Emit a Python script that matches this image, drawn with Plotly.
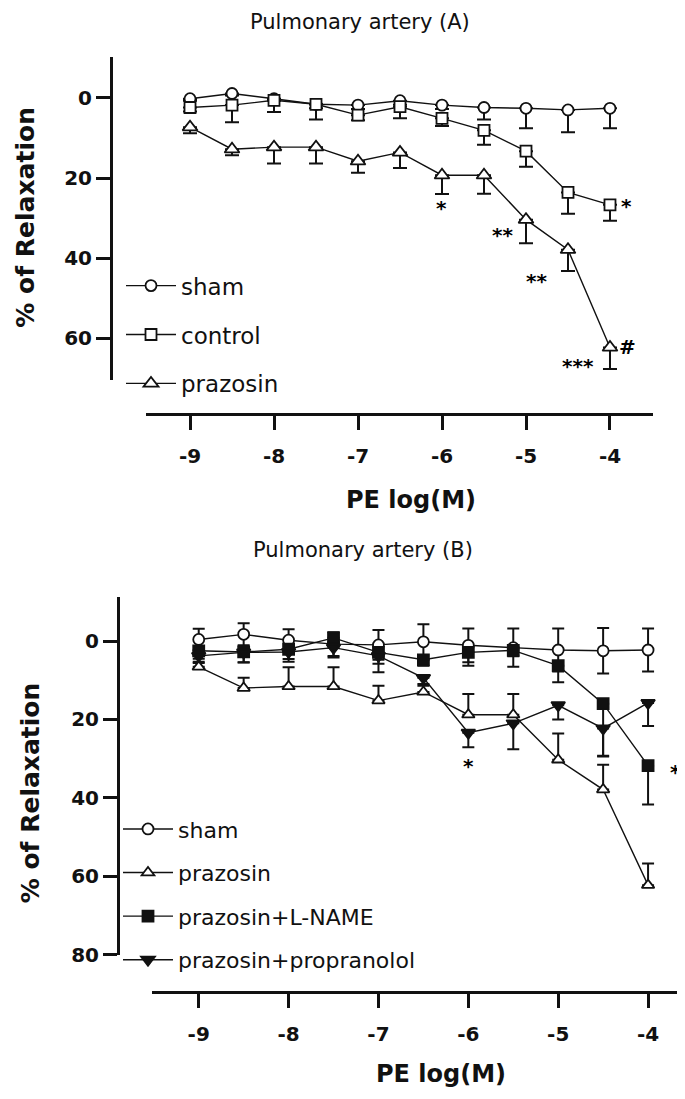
import plotly.graph_objects as go

# ---------------- data ----------------
log_pe = [-9, -8.5, -8, -7.5, -7, -6.5, -6, -5.5, -5, -4.5, -4]

# Panel A
a_sham = [0.2, -1.1, 0.2, 1.6, 1.8, 0.7, 1.8, 2.4, 2.6, 3.0, 2.6]
a_sham_err = [0.5, 0.5, 0.5, 1.0, 1.0, 1.0, 1.0, 3.0, 5.0, 5.6, 5.0]
a_control = [2.4, 1.8, 0.6, 1.6, 4.3, 2.2, 5.1, 8.1, 13.3, 23.6, 26.7]
a_control_err = [1.0, 4.3, 2.9, 3.8, 1.3, 2.9, 1.9, 3.6, 3.9, 5.3, 4.0]
a_prazosin = [7.3, 12.8, 12.3, 12.3, 15.8, 13.6, 19.3, 19.3, 30.4, 37.9, 62.3]
a_prazosin_err = [1.5, 1.5, 4.1, 4.1, 2.9, 3.9, 4.7, 4.6, 5.9, 5.3, 5.4]
a_marks = ["*", "**", "**", "***", "*", "#"]
a_marks_x = [-6.01, -5.28, -4.87, -4.38, -3.80, -3.79]
a_marks_y = [27.3, 33.9, 45.4, 66.6, 26.7, 61.9]

# Panel B
b_sham = [-0.4, -1.7, -0.2, 0.8, 1.0, 0.2, 1.1, 1.7, 2.3, 2.5, 2.3]
b_sham_err = [2.7, 2.8, 2.8, 3.0, 3.8, 4.5, 4.3, 4.9, 5.5, 5.8, 5.5]
b_prazosin = [6.6, 12.0, 11.6, 11.6, 15.2, 13.0, 18.8, 18.8, 30.3, 37.9, 62.3]
b_prazosin_err = [1.0, 2.6, 4.9, 4.9, 3.8, 2.0, 5.3, 5.3, 6.7, 6.3, 5.5]
b_lname = [2.5, 2.8, 2.1, -0.8, 2.9, 4.8, 2.9, 2.4, 6.3, 16.0, 31.8]
b_lname_err = [2.0, 2.7, 2.5, 1.0, 2.9, 1.5, 3.4, 1.5, 4.2, 13.5, 9.9]
b_prop = [3.8, 2.9, 2.8, 1.7, 3.8, 9.4, 23.4, 21.0, 16.4, 22.3, 15.8]
b_prop_err = [1.5, 2.5, 2.5, 2.5, 4.2, 2.0, 3.7, 6.6, 3.6, 7.0, 5.9]
b_marks = ["*", "*"]
b_marks_x = [-6.0, -3.69]
b_marks_y = [31.3, 33.0]

x_ticks = [-9, -8, -7, -6, -5, -4]
x_tick_labels = ["-9", "-8", "-7", "-6", "-5", "-4"]
a_y_ticks = [0, 20, 40, 60]
a_y_tick_labels = ["0", "20", "40", "60"]
b_y_ticks = [0, 20, 40, 60, 80]
b_y_tick_labels = ["0", "20", "40", "60", "80"]

# ---------------- styling ----------------
W, H = 685, 1099
INK = "#111111"
FONT = "DejaVu Sans"


def px_x(p):
    return p / W


def px_y(p):
    return 1 - p / H


fig = go.Figure()


def add_series(x, y, err, name, symbol, fill, xa, ya, legend, size, cap, plus=True, sym=False):
    if sym:
        ey = dict(type="data", array=err, symmetric=True, color=INK, thickness=2, width=cap)
    elif plus:
        ey = dict(type="data", array=err, arrayminus=[0] * len(err), symmetric=False,
                  color=INK, thickness=2, width=cap)
    else:
        ey = dict(type="data", array=[0] * len(err), arrayminus=err, symmetric=False,
                  color=INK, thickness=2, width=cap)
    fig.add_trace(go.Scatter(
        x=x, y=y, name=name, mode="lines+markers",
        xaxis=xa, yaxis=ya, legend=legend, legendgroup=legend + name,
        line=dict(color=INK, width=1.4),
        marker=dict(symbol=symbol, size=size, color=fill, line=dict(color=INK, width=1.8)),
        error_y=ey,
    ))


# Panel A
add_series(log_pe, a_sham, a_sham_err, "sham", "circle", "white", "x", "y", "legend", 11, 7)
add_series(log_pe, a_control, a_control_err, "control", "square", "white", "x", "y", "legend", 11, 7)
add_series(log_pe, a_prazosin, a_prazosin_err, "prazosin", "triangle-up", "white", "x", "y", "legend", 13, 7)

# Panel B
add_series(log_pe, b_sham, b_sham_err, "sham", "circle", "white", "x2", "y2", "legend2", 11, 6, sym=True)
add_series(log_pe, b_prazosin, b_prazosin_err, "prazosin", "triangle-up", "white", "x2", "y2", "legend2", 11, 6, plus=False)
add_series(log_pe, b_lname, b_lname_err, "prazosin+L-NAME", "square", INK, "x2", "y2", "legend2", 11, 6)
add_series(log_pe, b_prop, b_prop_err, "prazosin+propranolol", "triangle-down", INK, "x2", "y2", "legend2", 12, 6)

tickfont = dict(family=FONT, size=20, color=INK, weight="bold")
axis_common = dict(showgrid=False, zeroline=False, showline=True, linecolor=INK, linewidth=3,
                   ticks="outside", ticklen=14, tickwidth=3, tickcolor=INK, tickfont=tickfont)

fig.update_layout(
    width=W, height=H,
    margin=dict(l=0, r=0, t=0, b=0),
    paper_bgcolor="white", plot_bgcolor="white",
    showlegend=True,
    xaxis=dict(domain=[px_x(137.5), px_x(645)], range=[-9.53, -3.488], anchor="free",
               position=px_y(410), tickvals=x_ticks, ticktext=x_tick_labels,
               ticklabelstandoff=9, **axis_common),
    yaxis=dict(domain=[px_y(376), px_y(50)], range=[70.4, -10.1], anchor="free",
               position=px_x(103), tickvals=a_y_ticks, ticktext=a_y_tick_labels,
               ticklabelstandoff=0, **axis_common),
    xaxis2=dict(domain=[px_x(144), 1.0], range=[-9.52, -3.5], anchor="free",
                position=px_y(995), tickvals=x_ticks, ticktext=x_tick_labels,
                ticklabelstandoff=9, **axis_common),
    yaxis2=dict(domain=[px_y(957), px_y(596)], range=[80, -11.1], anchor="free",
                position=px_x(110), tickvals=b_y_ticks, ticktext=b_y_tick_labels,
                ticklabelstandoff=0, **axis_common),
    legend=dict(x=px_x(113), y=px_y(259), xanchor="left", yanchor="top",
                font=dict(family=FONT, size=23, color=INK), bgcolor="rgba(0,0,0,0)",
                traceorder="grouped", tracegroupgap=16, itemwidth=50),
    legend2=dict(x=px_x(110), y=px_y(809), xanchor="left", yanchor="top",
                 font=dict(family=FONT, size=22, color=INK), bgcolor="rgba(0,0,0,0)",
                 traceorder="grouped", tracegroupgap=12, itemwidth=50),
)

# significance marks
mark_font = dict(family=FONT, size=20, color="#000000", weight="bold")
for t, xx, yy in zip(a_marks, a_marks_x, a_marks_y):
    fig.add_annotation(x=xx, y=yy, xref="x", yref="y", text=t, showarrow=False,
                       font=mark_font, yshift=-1)
for t, xx, yy in zip(b_marks, b_marks_x, b_marks_y):
    fig.add_annotation(x=xx, y=yy, xref="x2", yref="y2", text=t, showarrow=False,
                       font=mark_font, yshift=-2)

# titles
titles = [
    ("Pulmonary artery (A)", 352, 14, 21, "normal", 0),
    ("Pulmonary artery (B)", 355, 548, 21, "normal", 0),
    ("PE log(M)", 403, 497, 24, "bold", 0),
    ("PE log(M)", 433, 1078, 24, "bold", 0),
    ("% of Relaxation", 18, 212, 25, "bold", -90),
    ("% of Relaxation", 22, 794, 25, "bold", -90),
]
for text, cx, cy, sz, wt, ang in titles:
    fig.add_annotation(x=px_x(cx), y=px_y(cy), xref="paper", yref="paper", text=text,
                       showarrow=False, textangle=ang, xanchor="center", yanchor="middle",
                       font=dict(family=FONT, size=sz, color=INK, weight=wt))

fig.write_html("out.html")
